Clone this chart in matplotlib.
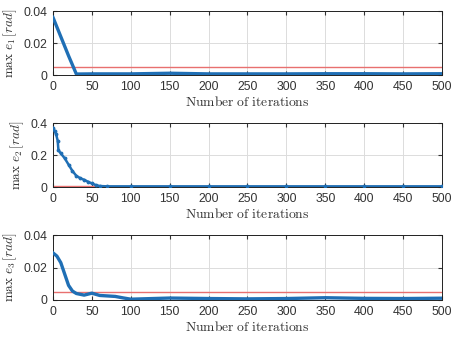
import matplotlib
matplotlib.use("Agg")
import matplotlib.pyplot as plt

plt.rcParams['mathtext.fontset'] = 'cm'
plt.rcParams['font.family'] = ['Liberation Sans', 'DejaVu Sans']

# Series 1
it1 = [0, 5, 10, 20, 30, 50, 100, 150, 200, 250, 300, 350, 400, 450, 500]
e1 = [0.036, 0.030, 0.024, 0.012, 0.0006, 0.0007, 0.0007, 0.0011, 0.0007, 0.0007, 0.0007, 0.0008, 0.0008, 0.0007, 0.0008]
# Series 2
it2 = [0, 2, 4, 6, 7, 10, 15, 20, 25, 30, 35, 40, 45, 50, 55, 60, 70, 100, 150, 200, 250, 300, 350, 400, 450, 500]
e2 = [0.37, 0.35, 0.33, 0.29, 0.23, 0.21, 0.18, 0.14, 0.10, 0.07, 0.055, 0.045, 0.033, 0.022, 0.012, 0.006, 0.004, 0.004, 0.004, 0.004, 0.004, 0.004, 0.004, 0.004, 0.004, 0.004]
# Series 3
it3 = [0, 5, 10, 15, 20, 25, 30, 40, 50, 55, 60, 80, 90, 100, 150, 200, 250, 300, 350, 400, 450, 500]
e3 = [0.029, 0.027, 0.023, 0.016, 0.009, 0.0055, 0.004, 0.003, 0.0042, 0.0035, 0.0028, 0.0022, 0.0013, 0.0005, 0.0012, 0.0009, 0.0007, 0.0009, 0.0014, 0.0010, 0.0009, 0.0011]

thresholds = [0.005, 0.005, 0.005]
ylims = [(0, 0.04), (0, 0.4), (0, 0.04)]
yticks = [[0, 0.02, 0.04], [0, 0.2, 0.4], [0, 0.02, 0.04]]
yticklabels = [['0', '0.02', '0.04'], ['0', '0.2', '0.4'], ['0', '0.02', '0.04']]
ylabels = [r'$\max\ e_1\,[rad]$', r'$\max\ e_2\,[rad]$', r'$\max\ e_3\,[rad]$']
xticks = [0, 50, 100, 150, 200, 250, 300, 350, 400, 450, 500]
xlabel = r'$\mathrm{Number\ of\ iterations}$'

W, H = 452, 338
fig = plt.figure(figsize=(W / 100, H / 100), dpi=100)
blue = '#1f6fb5'
red = '#e8706f'

tops = [11, 123, 235]
bots = [75, 187, 300]
left, right = 53, 442
series = [(it1, e1, False), (it2, e2, True), (it3, e3, False)]
for i in range(3):
    ax = fig.add_axes([left / W, 1 - bots[i] / H, (right - left) / W, (bots[i] - tops[i]) / H])
    x, y, mk = series[i]
    ax.plot([0, 500], [thresholds[i], thresholds[i]], color=red, lw=1.0, zorder=2)
    if mk:
        ax.plot(x, y, color=blue, lw=1.8, marker='.', ms=3.5, zorder=3)
    else:
        ax.plot(x, y, color=blue, lw=2.4, zorder=3)
    ax.set_xlim(0, 500)
    ax.set_ylim(*ylims[i])
    ax.set_xticks(xticks)
    ax.set_yticks(yticks[i])
    ax.set_yticklabels(yticklabels[i])
    ax.grid(True, color='#dcdcdc', lw=0.7)
    ax.set_axisbelow(True)
    ax.tick_params(labelsize=8.8, direction='in', length=3, top=True, right=True, pad=4, colors='#333333')
    for s in ax.spines.values():
        s.set_color('#222222')
        s.set_linewidth(0.7)
    ax.set_ylabel(ylabels[i], fontsize=9.5, labelpad=3, color='#333333')
    ax.set_xlabel(xlabel, fontsize=9.8, labelpad=2, color='#333333')

fig.savefig('out.png', dpi=100)
